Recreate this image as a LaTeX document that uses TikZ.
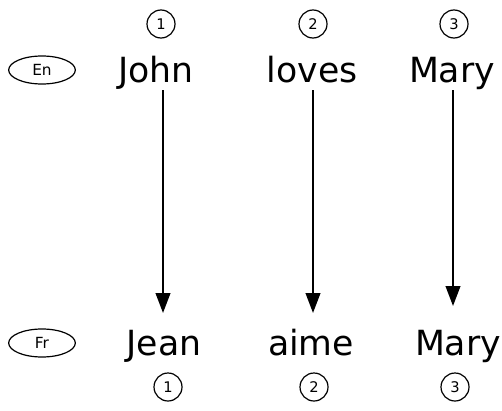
\documentclass[tikz,border=0pt]{standalone}
\usepackage{fontspec}
\setmainfont{DejaVu Sans}
\usetikzlibrary{arrows.meta,shapes.geometric}
\begin{document}
\begin{tikzpicture}[x=0.75pt,y=-0.75pt,
  word/.style={font=\fontsize{26}{31}\selectfont, inner sep=0pt, anchor=base},
  num/.style={circle, draw, line width=0.9pt, minimum size=21pt, inner sep=0pt, font=\fontsize{11}{13}\selectfont},
  lang/.style={ellipse, draw, line width=0.9pt, minimum width=50pt, minimum height=21pt, inner sep=0pt, font=\fontsize{11.5}{13}\selectfont},
  arr/.style={line width=1.5pt, -{Triangle[length=15pt,width=11pt]}}]
\useasboundingbox (0,0) rectangle (502,410);
% top row
\node[num] (t1) at (161,24) {1};
\node[num] (t2) at (313,24) {2};
\node[num] (t3) at (454,24) {3};
\node[lang] (en) at (42,70) {En};
\node[word] (john) at (156,82) {John};
\node[word] (loves) at (312,82) {loves};
\node[word] (mary1) at (452,82) {Mary};
% bottom row
\node[lang] (fr) at (42,343) {Fr};
\node[word] (jean) at (164,355) {Jean};
\node[word] (aime) at (311,355) {aime};
\node[word] (mary2) at (458,355) {Mary};
\node[num] (b1) at (168,387) {1};
\node[num] (b2) at (314,387) {2};
\node[num] (b3) at (455,387) {3};
% arrows
\coordinate (s1) at (163,90);
\coordinate (e1) at (163,313);
\coordinate (s2) at (313,90);
\coordinate (e2) at (313,313);
\coordinate (s3) at (453,90);
\coordinate (e3) at (453,306);
\draw[arr] (s1) -- (e1);
\draw[arr] (s2) -- (e2);
\draw[arr] (s3) -- (e3);
\end{tikzpicture}
\end{document}
